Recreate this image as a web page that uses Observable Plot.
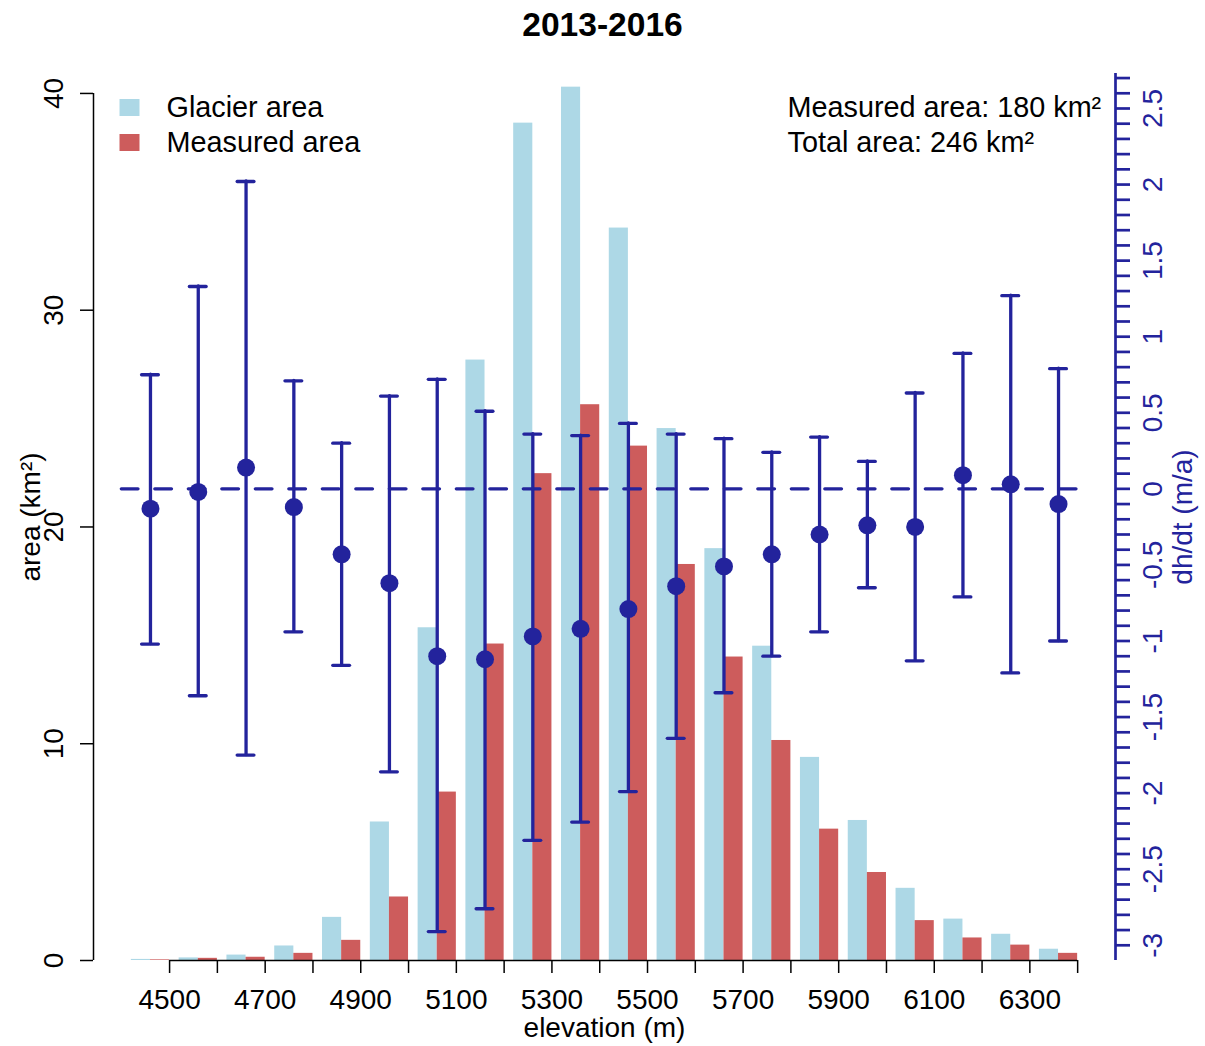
<!DOCTYPE html>
<html>
<head>
<meta charset="utf-8">
<script src="https://cdn.jsdelivr.net/npm/d3@7"></script>
<script src="https://cdn.jsdelivr.net/npm/@observablehq/plot@0.6"></script>
<style>
  body { margin: 0; background: #fff; }
  #title { width: 1205px; height: 50px; line-height: 50px; text-align: center; overflow: visible;
           font: bold 33.6px "Liberation Sans", Arial, Helvetica, sans-serif; color: #000; }
  #title span { position: relative; top: 6px; }
  #chart svg { display: block; }
</style>
</head>
<body>
<div id="title"><span></span></div>
<div id="chart"></div>
<script>
// ---- data ----
const binLower     = [4400, 4500, 4600, 4700, 4800, 4900, 5000, 5100, 5200, 5300,
                      5400, 5500, 5600, 5700, 5800, 5900, 6000, 6100, 6200, 6300];
const glacierArea  = [0.05, 0.12, 0.25, 0.67, 1.99, 6.39, 15.35, 27.7, 38.63, 40.29,
                      33.79, 24.54, 19.0, 14.5, 9.37, 6.46, 3.33, 1.91, 1.21, 0.52];
const measuredArea = [0.03, 0.10, 0.15, 0.33, 0.93, 2.93, 7.77, 14.6, 22.46, 25.64,
                      23.73, 18.27, 14.0, 10.15, 6.06, 4.06, 1.84, 1.04, 0.71, 0.33];
const dhdt         = [-0.13, -0.02, 0.14, -0.12, -0.43, -0.62, -1.10, -1.12, -0.97, -0.92,
                      -0.79, -0.64, -0.51, -0.43, -0.30, -0.24, -0.25, 0.09, 0.03, -0.10];
const dhdtHigh     = [0.75, 1.33, 2.02, 0.71, 0.30, 0.61, 0.72, 0.51, 0.36, 0.35,
                      0.43, 0.36, 0.33, 0.24, 0.34, 0.18, 0.63, 0.89, 1.27, 0.79];
const dhdtLow      = [-1.02, -1.36, -1.75, -0.94, -1.16, -1.86, -2.91, -2.76, -2.31, -2.19,
                      -1.99, -1.64, -1.34, -1.10, -0.94, -0.65, -1.13, -0.71, -1.21, -1.00];

const areaTicks     = [0, 10, 20, 30, 40];
const xTickValues   = [4500, 4600, 4700, 4800, 4900, 5000, 5100, 5200, 5300, 5400,
                       5500, 5600, 5700, 5800, 5900, 6000, 6100, 6200, 6300, 6400];
const xTickLabels   = ["4500", "4700", "4900", "5100", "5300", "5500", "5700", "5900", "6100", "6300"];
const dhMajorValues = [-3, -2.5, -2, -1.5, -1, -0.5, 0, 0.5, 1, 1.5, 2, 2.5];
const dhMajorLabels = ["-3", "-2.5", "-2", "-1.5", "-1", "-0.5", "0", "0.5", "1", "1.5", "2", "2.5"];
const dhMinorValues = d3.range(-30, 28).map(i => i / 10);

const legendLabels  = ["Glacier area", "Measured area"];
const legendColors  = ["#add8e6", "#cd5c5c"];
const noteLines     = ["Measured area: 180 km²", "Total area: 246 km²"];

const titleText = "2013-2016";
const xLabel = "elevation (m)";
const yLabel = "area (km²)";
const y2Label = "dh/dt (m/a)";

// ---- scales ----
const blue = "#23239c";
const font = "Liberation Sans, Arial, Helvetica, sans-serif";
const areaDomain = [0, 40.92];
const dhDomain = [-3.1, 2.73];
const toArea = d => areaDomain[0] + (d - dhDomain[0]) / (dhDomain[1] - dhDomain[0]) * (areaDomain[1] - areaDomain[0]);
const fromArea = a => dhDomain[0] + (a - areaDomain[0]) / (areaDomain[1] - areaDomain[0]) * (dhDomain[1] - dhDomain[0]);
const barSpan = [binLower[0] + 20, binLower[binLower.length - 1] + 100];
const pad = 0.04 * (barSpan[1] - barSpan[0]);
const xDomain = [barSpan[0] - pad, barSpan[1] + pad];

const rows = binLower.map((lo, i) => ({
  lo, glacier: glacierArea[i], measured: measuredArea[i],
  dh: dhdt[i], dhLo: dhdtLow[i], dhHi: dhdtHigh[i]
}));
const mid = d => d.lo + 60;

const xLabelSet = new Set(xTickLabels);
const dhLabelMap = new Map(dhMajorValues.map((v, i) => [Math.round(v * 10), dhMajorLabels[i]]));

const boxSymbol = { draw(ctx) { ctx.rect(-10, -8.5, 20, 17); } };

document.querySelector("#title span").textContent = titleText;

const chart = Plot.plot({
  width: 1205,
  height: 996,
  marginLeft: 93,
  marginRight: 90,
  marginTop: 23,
  marginBottom: 86,
  x: { domain: xDomain },
  y: { domain: areaDomain },
  style: { fontFamily: font, fontSize: "28px", color: "#000", background: "#fff" },
  marks: [
    // bars
    Plot.rect(rows, { x1: d => d.lo + 20, x2: d => d.lo + 60, y1: 0, y2: "glacier", fill: legendColors[0] }),
    Plot.rect(rows, { x1: d => d.lo + 60, x2: d => d.lo + 100, y1: 0, y2: "measured", fill: legendColors[1] }),

    // zero line of dh/dt
    Plot.ruleY([0], { y: d => toArea(d), x1: binLower[0], x2: barSpan[1],
      stroke: blue, strokeWidth: 3.3, strokeDasharray: "16.7,16.8", strokeLinecap: "round" }),

    // error bars
    Plot.ruleX(rows, { x: mid, y1: d => toArea(d.dhLo), y2: d => toArea(d.dhHi),
      stroke: blue, strokeWidth: 3.3, strokeLinecap: "round" }),
    Plot.ruleY(rows, { y: d => toArea(d.dhHi), x1: mid, x2: mid, insetLeft: -8.4, insetRight: -8.4,
      stroke: blue, strokeWidth: 3.3, strokeLinecap: "round" }),
    Plot.ruleY(rows, { y: d => toArea(d.dhLo), x1: mid, x2: mid, insetLeft: -8.4, insetRight: -8.4,
      stroke: blue, strokeWidth: 3.3, strokeLinecap: "round" }),
    Plot.dot(rows, { x: mid, y: d => toArea(d.dh), r: 9, fill: blue, stroke: null }),

    // axis lines
    Plot.ruleX([xDomain[0]], { y1: areaTicks[0], y2: areaTicks[areaTicks.length - 1], stroke: "#000", strokeWidth: 1.5 }),
    Plot.ruleY([areaDomain[0]], { x1: xTickValues[0], x2: xTickValues[xTickValues.length - 1], stroke: "#000", strokeWidth: 1.5 }),
    Plot.ruleX([xDomain[1]], { y1: areaDomain[0], y2: areaDomain[1], stroke: blue, strokeWidth: 2.7 }),

    // left axis
    Plot.axisY(areaTicks, { anchor: "left", tickSize: 13, tickPadding: 26, tickRotate: -90,
      textAnchor: "middle", lineAnchor: "middle", tickFormat: d => String(d), label: null,
      fontSize: 28, strokeWidth: 1.5, color: "#000" }),
    // bottom axis
    Plot.axisX(xTickValues, { anchor: "bottom", tickSize: 13, tickPadding: 16,
      tickFormat: d => xLabelSet.has(String(d)) ? String(d) : "", label: null,
      fontSize: 28, strokeWidth: 1.5, color: "#000" }),
    // right axis
    Plot.axisY(dhMinorValues.map(toArea), { anchor: "right", tickSize: 14, tickPadding: 24, tickRotate: -90,
      textAnchor: "middle", lineAnchor: "middle",
      tickFormat: a => dhLabelMap.get(Math.round(fromArea(a) * 10)) ?? "", label: null,
      fontSize: 28, strokeWidth: 2.7, color: blue }),

    // axis titles
    Plot.text([xLabel], { text: d => d, frameAnchor: "bottom", dy: 68, textAnchor: "middle", lineAnchor: "middle", fontSize: 28, fill: "#000" }),
    Plot.text([yLabel], { text: d => d, frameAnchor: "left", dx: -62, rotate: -90, textAnchor: "middle", lineAnchor: "middle", fontSize: 28, fill: "#000" }),
    Plot.text([y2Label], { text: d => d, frameAnchor: "right", dx: 68, rotate: -90, textAnchor: "middle", lineAnchor: "middle", fontSize: 28, fill: blue }),

    // legend
    ...legendLabels.flatMap((lab, i) => [
      Plot.dot([lab], { frameAnchor: "top-left", dx: 36, dy: 34 + 35 * i, symbol: boxSymbol, fill: legendColors[i], stroke: null }),
      Plot.text([lab], { text: d => d, frameAnchor: "top-left", dx: 73, dy: 34 + 35 * i, textAnchor: "start", lineAnchor: "middle", fontSize: 28.8, fill: "#000" })
    ]),
    // area notes
    ...noteLines.map((t, i) =>
      Plot.text([t], { text: d => d, frameAnchor: "top-left", dx: 694, dy: 34 + 35 * i, textAnchor: "start", lineAnchor: "middle", fontSize: 28.8, fill: "#000" })
    )
  ]
});
document.getElementById("chart").appendChild(chart);
</script>
</body>
</html>
